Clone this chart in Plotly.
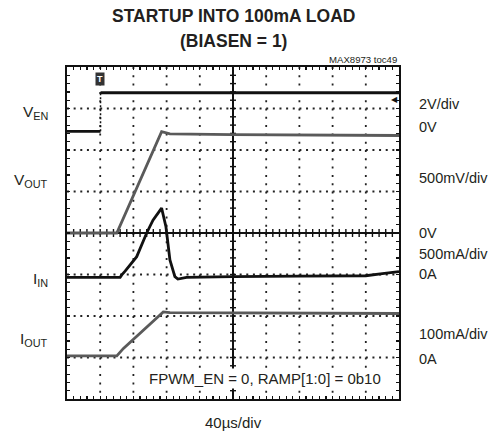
import plotly.graph_objects as go
import numpy as np

# ---- data (x in divisions of 40us, y in screen divisions from bottom) ----
ven_x = [0.0, 1.01, 1.01, 10.0]
ven_y = [6.45, 6.45, 7.38, 7.38]

vout_x = [0.0, 1.50, 2.85, 3.10, 5.0, 10.0]
vout_y = [4.00, 4.00, 6.44, 6.39, 6.37, 6.35]

iin_x = [0.0, 1.60, 1.65, 1.75, 2.10, 2.40, 2.59, 2.75, 2.85, 2.98, 3.10, 3.25, 3.34, 3.6, 5.0, 7.0, 9.0, 9.5, 10.0]
iin_y = [2.93, 2.93, 2.99, 3.08, 3.43, 4.00, 4.31, 4.50, 4.60, 4.15, 3.35, 2.95, 2.89, 2.93, 2.95, 2.96, 2.97, 3.02, 3.07]

iout_x = [0.0, 1.50, 1.70, 2.90, 3.1, 10.0]
iout_y = [1.04, 1.04, 1.22, 2.10, 2.08, 2.06]

left_labels = ["V<sub>EN</sub>", "V<sub>OUT</sub>", "I<sub>IN</sub>", "I<sub>OUT</sub>"]
right_labels = ["2V/div", "0V", "500mV/div", "0V", "500mA/div", "0A", "100mA/div", "0A"]

# ---- layout geometry (pixels) ----
W, H = 495, 434
L, R, T, B = 67, 399, 67, 399
PW, PH = R - L, B - T

def px(x):
    return (x - L) / PW

def py(y):
    return (B - y) / PH

FONT = "Liberation Sans, Arial, sans-serif"
TXT = "#231f20"

fig = go.Figure()

fig.add_trace(go.Scatter(x=vout_x, y=vout_y, mode="lines",
                         line=dict(color="#5a5a5a", width=2.8), hoverinfo="skip"))
fig.add_trace(go.Scatter(x=iout_x, y=iout_y, mode="lines",
                         line=dict(color="#5a5a5a", width=2.8), hoverinfo="skip"))
fig.add_trace(go.Scatter(x=iin_x, y=iin_y, mode="lines",
                         line=dict(color="#111111", width=2.8), hoverinfo="skip"))
fig.add_trace(go.Scatter(x=ven_x[:2], y=ven_y[:2], mode="lines",
                         line=dict(color="#111111", width=2.8), hoverinfo="skip"))
fig.add_trace(go.Scatter(x=ven_x[1:3], y=ven_y[1:3], mode="lines",
                         line=dict(color="#111111", width=1.5, dash="2px,2px"), hoverinfo="skip"))
fig.add_trace(go.Scatter(x=ven_x[2:], y=ven_y[2:], mode="lines",
                         line=dict(color="#111111", width=2.8), hoverinfo="skip"))

axis_common = dict(showline=True, linecolor="#111111", linewidth=2, mirror="allticks",
                   ticks="inside", ticklen=3, tickwidth=1.2, tickcolor="#111111",
                   showticklabels=False, zeroline=False, showgrid=False,
                   tickmode="linear", fixedrange=True)

fig.update_xaxes(range=[0, 10], tick0=0, dtick=0.2, **axis_common)
fig.update_yaxes(range=[0, 8], tick0=0, dtick=0.2, **axis_common)

shapes = []
# dotted grid lines
for xv in range(1, 10):
    if xv == 5:
        continue
    shapes.append(dict(type="line", xref="x", yref="y", x0=xv, x1=xv, y0=8, y1=0,
                       line=dict(color="#222222", width=1.8, dash="2px,6.3px"), layer="below"))
for yv in range(1, 8):
    if yv == 4:
        continue
    shapes.append(dict(type="line", xref="x", yref="y", x0=0, x1=10, y0=yv, y1=yv,
                       line=dict(color="#222222", width=1.8, dash="2px,4.64px"), layer="below"))
# center cross
shapes.append(dict(type="line", xref="x", yref="y", x0=5, x1=5, y0=0, y1=8,
                   line=dict(color="#111111", width=2), layer="below"))
shapes.append(dict(type="line", xref="x", yref="y", x0=0, x1=10, y0=4, y1=4,
                   line=dict(color="#111111", width=2), layer="below"))
for k in range(1, 50):
    xv = k * 0.2
    shapes.append(dict(type="line", xref="x", yref="y", ysizemode="pixel", yanchor=4,
                       y0=-4, y1=4, x0=xv, x1=xv,
                       line=dict(color="#111111", width=1.4), layer="below"))
for k in range(1, 40):
    yv = k * 0.2
    shapes.append(dict(type="line", xref="x", yref="y", xsizemode="pixel", xanchor=5,
                       x0=-3, x1=3, y0=yv, y1=yv,
                       line=dict(color="#111111", width=1.4), layer="below"))

annotations = []
# title
annotations.append(dict(text="<b>STARTUP INTO 100mA LOAD</b>", x=px(233.5), y=py(16),
                        xref="paper", yref="paper", showarrow=False, xanchor="center", yanchor="middle",
                        font=dict(family=FONT, size=17.5, color=TXT)))
annotations.append(dict(text="<b>(BIASEN = 1)</b>", x=px(233.5), y=py(41),
                        xref="paper", yref="paper", showarrow=False, xanchor="center", yanchor="middle",
                        font=dict(family=FONT, size=17.5, color=TXT)))
annotations.append(dict(text="MAX8973 toc49", x=px(399), y=py(60),
                        xref="paper", yref="paper", showarrow=False, xanchor="right", yanchor="middle",
                        font=dict(family=FONT, size=9.6, color=TXT)))

left_y = [113, 180, 279, 339]
for t, yy in zip(left_labels, left_y):
    annotations.append(dict(text=t, x=px(50), y=py(yy), xref="paper", yref="paper",
                            showarrow=False, xanchor="right", yanchor="middle",
                            font=dict(family=FONT, size=15.5, color=TXT)))

right_y = [104, 127, 178, 233, 254, 274, 334, 359]
for t, yy in zip(right_labels, right_y):
    annotations.append(dict(text=t, x=px(417), y=py(yy), xref="paper", yref="paper",
                            showarrow=False, xanchor="left", yanchor="middle",
                            font=dict(family=FONT, size=14.5, color=TXT)))

annotations.append(dict(text="FPWM_EN = 0, RAMP[1:0] = 0b10", x=px(383), y=py(378),
                        xref="paper", yref="paper", showarrow=False, xanchor="right", yanchor="middle",
                        font=dict(family=FONT, size=15, color=TXT), bgcolor="white"))
annotations.append(dict(text="40µs/div", x=px(233), y=py(422),
                        xref="paper", yref="paper", showarrow=False, xanchor="center", yanchor="middle",
                        font=dict(family=FONT, size=15, color=TXT)))
# trigger marker
annotations.append(dict(text="<b>T</b>", x=1.0, y=py(79), xref="x", yref="paper",
                        showarrow=False, xanchor="center", yanchor="middle",
                        font=dict(family=FONT, size=9, color="white"),
                        bgcolor="#333333", borderpad=1))
annotations.append(dict(text="◀", x=px(394), y=py(99), xref="paper", yref="paper",
                        showarrow=False, xanchor="center", yanchor="middle",
                        font=dict(family="DejaVu Sans", size=8, color="#111111")))

fig.update_layout(width=W, height=H, margin=dict(l=L, r=W - R, t=T, b=H - B, pad=0),
                  paper_bgcolor="white", plot_bgcolor="white", showlegend=False,
                  shapes=shapes, annotations=annotations)

fig.write_html("out.html", config={"displayModeBar": False, "staticPlot": True})

# remove default page margin so the figure sits at the window's top-left corner
with open("out.html", "r", encoding="utf-8") as f:
    html = f.read()
html = html.replace("<head>", "<head><style>html,body{margin:0;padding:0;overflow:hidden;}</style>", 1)
with open("out.html", "w", encoding="utf-8") as f:
    f.write(html)
